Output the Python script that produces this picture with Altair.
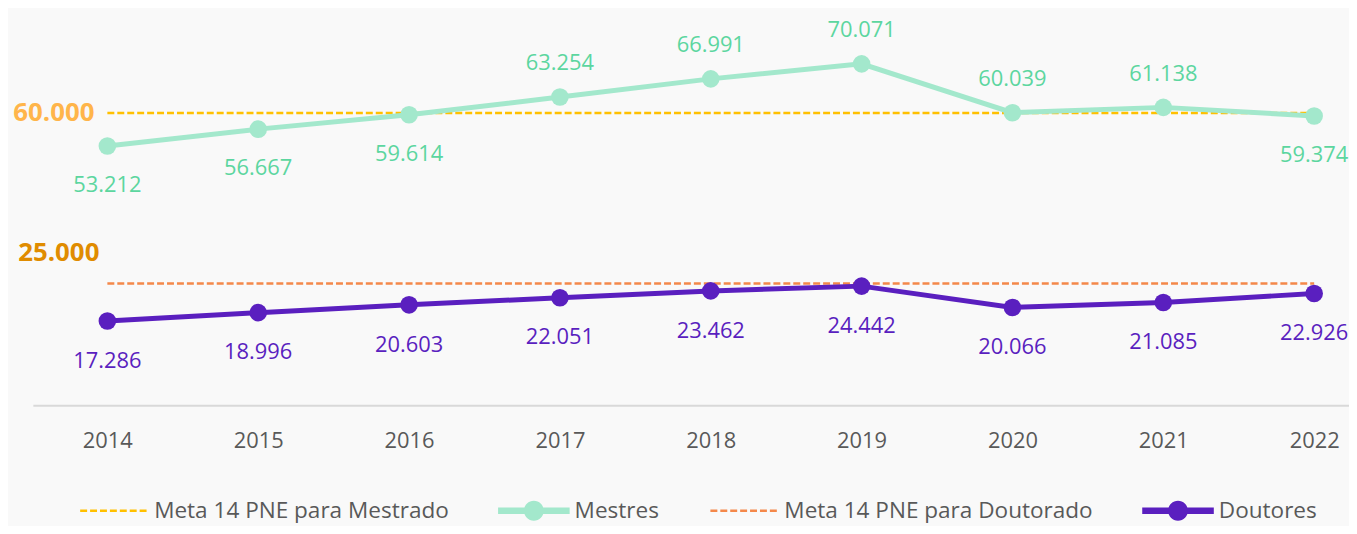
import altair as alt
import pandas as pd

# ---------------- data ----------------
anos = [2014, 2015, 2016, 2017, 2018, 2019, 2020, 2021, 2022]
mestres = [53212, 56667, 59614, 63254, 66991, 70071, 60039, 61138, 59374]
doutores = [17286, 18996, 20603, 22051, 23462, 24442, 20066, 21085, 22926]
meta_mestrado = 60000
meta_doutorado = 25000

series = ["Meta 14 PNE para Mestrado", "Mestres", "Meta 14 PNE para Doutorado", "Doutores"]
cores = ["#ffc000", "#a3e8cc", "#f4884a", "#5a1fbf"]

FONT = "Open Sans"
GREY = "#595959"

df_m = pd.DataFrame({"ano": anos, "valor": mestres})
df_d = pd.DataFrame({"ano": anos, "valor": doutores})
df_meta_m = pd.DataFrame({"ano": [anos[0]], "ano_fim": [anos[-1]], "valor": [meta_mestrado]})
df_meta_d = pd.DataFrame({"ano": [anos[0]], "ano_fim": [anos[-1]], "valor": [meta_doutorado]})
df_leg = pd.DataFrame({"serie": series})

fmt = "replace(format(datum.valor, ','), ',', '.')"

x_scale = alt.Scale(domain=[2013.506, 2022.231], nice=False, zero=False)
y_scale = alt.Scale(domain=[0, 81224], nice=False, zero=True)

X = alt.X("ano:Q", scale=x_scale,
          axis=alt.Axis(values=anos, format="d", title=None, ticks=False, grid=False,
                        labelFontSize=22, labelFont=FONT, labelColor=GREY, labelPadding=26,
                        domainColor="#d9d9d9", domainWidth=2, labelFlush=False))
Y = alt.Y("valor:Q", scale=y_scale, axis=None)


def serie_layers(df, cor, cor_txt, dy_below, above_thr=None, dy_above=None):
    base = alt.Chart(df).encode(x=X, y=Y)
    line = base.mark_line(color=cor, strokeWidth=5)
    pts = base.mark_circle(color=cor, size=314, opacity=1)
    lab = base.transform_calculate(rotulo=fmt)
    if above_thr is not None:
        below = lab.transform_filter(f"datum.valor < {above_thr}").mark_text(
            dy=dy_below, fontSize=22, font=FONT, color=cor_txt).encode(text="rotulo:N")
        above = lab.transform_filter(f"datum.valor >= {above_thr}").mark_text(
            dy=dy_above, fontSize=22, font=FONT, color=cor_txt).encode(text="rotulo:N")
        return [line, pts, below, above]
    txt = lab.mark_text(dy=dy_below, fontSize=22, font=FONT, color=cor_txt).encode(text="rotulo:N")
    return [line, pts, txt]


def meta_layers(df, cor, cor_txt, dx_txt, dy_txt):
    rule = alt.Chart(df).mark_rule(color=cor, strokeWidth=2.5, strokeDash=[7, 3]).encode(
        x=X, x2="ano_fim:Q", y=Y)
    txt = alt.Chart(df).transform_calculate(rotulo=fmt).mark_text(
        align="right", baseline="middle", dx=dx_txt, dy=dy_txt, fontSize=26, fontWeight="bold",
        font=FONT, color=cor_txt).encode(x=X, y=Y, text="rotulo:N")
    return [rule, txt]


# ---------------- legend symbols (custom paths) ----------------
def dashed_path():
    parts = []
    n, dash, gap, h = 7, 0.194, 0.083, 0.035
    total = n * dash + (n - 1) * gap
    x0 = -total / 2
    for i in range(n):
        a = x0 + i * (dash + gap)
        b = a + dash
        parts.append(f"M{a:.3f},{-h} L{b:.3f},{-h} L{b:.3f},{h} L{a:.3f},{h} Z")
    return " ".join(parts)


def line_circle_path():
    h, r = 0.092, 0.278
    return (f"M-1,{-h} L1,{-h} L1,{h} L-1,{h} Z "
            f"M{r},0 A{r},{r} 0 1,1 {-r},0 A{r},{r} 0 1,1 {r},0 Z")


shapes = [dashed_path(), line_circle_path(), dashed_path(), line_circle_path()]

leg = alt.Legend(title=None, orient="none", direction="horizontal", legendX=45, legendY=468)
legend_layer = alt.Chart(df_leg).transform_filter("false").mark_point(
    filled=True, opacity=1, strokeWidth=0).encode(
    color=alt.Color("serie:N", scale=alt.Scale(domain=series, range=cores), legend=leg),
    shape=alt.Shape("serie:N", scale=alt.Scale(domain=series, range=shapes), legend=leg),
)

layers = []
layers += meta_layers(df_meta_m, "#ffc000", "#ffb54a", -13, 0)
layers += meta_layers(df_meta_d, "#f4884a", "#e08c00", -8, -31)
layers += serie_layers(df_m, "#a3e8cc", "#5cd69f", 39, above_thr=meta_mestrado, dy_above=-34)
layers += serie_layers(df_d, "#5a1fbf", "#5a1fbf", 40)
layers.append(legend_layer)

chart = alt.layer(*layers).properties(
    width=1324, height=398,
    autosize=alt.AutoSizeParams(type="none"),
    padding={"left": 25, "top": 0, "right": 0, "bottom": 120},
    background="#f9f9f9",
).configure_view(stroke=None).configure_legend(
    labelFont=FONT, labelFontSize=22.7, labelColor=GREY, symbolSize=5184,
    columnPadding=49, labelOffset=5, padding=0, symbolStrokeWidth=0, labelLimit=0,
)

chart.save("out.html", embed_options={"renderer": "svg", "actions": False})
